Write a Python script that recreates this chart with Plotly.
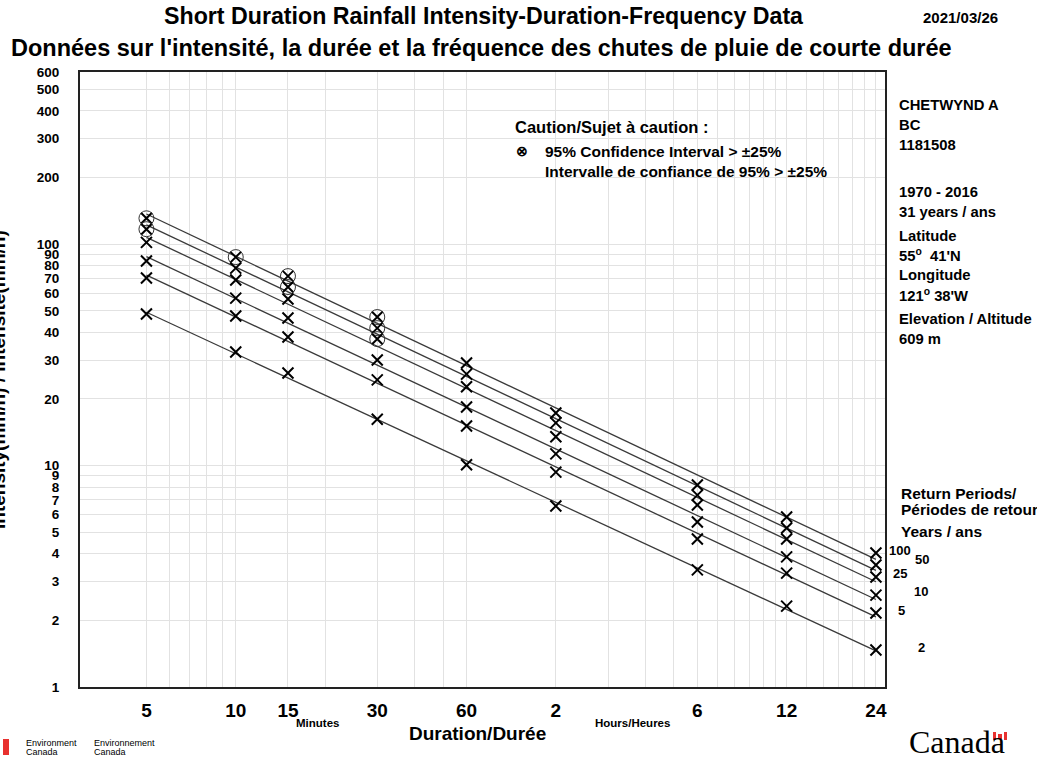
import numpy as np
import plotly.graph_objects as go

# ---------------- data ----------------
durations_min = [5, 10, 15, 30, 60, 120, 360, 720, 1440]
return_periods = ["100", "50", "25", "10", "5", "2"]
rp100 = [131, 87.5, 71.8, 46.9, 29.1, 17.3, 8.17, 5.86, 4.03]
rp50 = [117, 78, 64.1, 41.8, 25.9, 15.6, 7.36, 5.23, 3.56]
rp25 = [102, 68.9, 56.6, 37.3, 22.7, 13.5, 6.64, 4.66, 3.14]
rp10 = [84, 57.1, 46.4, 30.0, 18.4, 11.3, 5.56, 3.87, 2.60]
rp5 = [70.4, 47.4, 38.1, 24.4, 15.1, 9.35, 4.66, 3.27, 2.16]
rp2 = [48.4, 32.6, 26.2, 16.2, 10.1, 6.57, 3.38, 2.32, 1.47]
series = [rp100, rp50, rp25, rp10, rp5, rp2]
# points whose 95% confidence interval exceeds +-25% (circled)
caution100 = [1, 1, 1, 1, 0, 0, 0, 0, 0]
caution50 = [1, 0, 1, 1, 0, 0, 0, 0, 0]
caution25 = [0, 0, 0, 1, 0, 0, 0, 0, 0]
cautions = [caution100, caution50, caution25, [0]*9, [0]*9, [0]*9]

x_tick_vals = [5, 10, 15, 30, 60, 120, 360, 720, 1440]
x_tick_text = ["5", "10", "15", "30", "60", "2", "6", "12", "24"]
x_minor_grid = [6, 7, 8, 9, 20, 40, 50, 180, 240, 300, 420, 480, 540, 600, 660,
                840, 960, 1080, 1200, 1320]
y_ticks = [1, 2, 3, 4, 5, 6, 7, 8, 9, 10, 20, 30, 40, 50, 60, 70, 80, 90,
           100, 200, 300, 400, 500, 600]

# ---------------- layout geometry ----------------
W, H = 1037, 758
L, R, T, B = 80, 885, 72, 687
FONT = "Liberation Sans, Arial, Helvetica, sans-serif"


def px(x, y):
    return (x - L) / (R - L), (B - y) / (B - T)


fig = go.Figure()

logd = np.log10(durations_min)
for vals in series:
    k, c = np.polyfit(logd, np.log10(vals), 1)
    xs = [durations_min[0], durations_min[-1]]
    ys = [10 ** (c + k * np.log10(v)) for v in xs]
    fig.add_trace(go.Scatter(x=xs, y=ys, mode="lines",
                             line=dict(color="#3a3a3a", width=1.3),
                             showlegend=False, hoverinfo="skip"))

for vals, flags in zip(series, cautions):
    fig.add_trace(go.Scatter(x=durations_min, y=vals, mode="markers",
                             marker=dict(symbol="x-thin", size=11, color="black",
                                         line=dict(color="black", width=2)),
                             showlegend=False))
    cx = [d for d, f in zip(durations_min, flags) if f]
    cy = [v for v, f in zip(vals, flags) if f]
    if cx:
        fig.add_trace(go.Scatter(x=cx, y=cy, mode="markers",
                                 marker=dict(symbol="circle-open", size=15, color="#333",
                                             line=dict(color="#333", width=1)),
                                 showlegend=False))

ann = []


def text(x, y, s, size=13, anchor="left", bold=True, family=FONT, color="black", angle=0):
    xp, yp = px(x, y)
    ann.append(dict(x=xp, y=yp, xref="paper", yref="paper", text=s,
                    showarrow=False, xanchor=anchor, yanchor="middle",
                    textangle=angle,
                    font=dict(size=size, family=family, color=color,
                              weight="bold" if bold else "normal")))


text(484, 16, "Short Duration Rainfall Intensity-Duration-Frequency Data", 23.2, "center")
text(960, 18, "2021/03/26", 15, "center")
text(481, 48, "Données sur l'intensité, la durée et la fréquence des chutes de pluie de courte durée", 23.5, "center")

# station info
info = [(105, "CHETWYND A"), (125, "BC"), (145, "1181508"),
        (192, "1970 - 2016"), (212, "31 years / ans"), (236, "Latitude"),
        (255, "55<sup>o</sup>  41'N"), (275, "Longitude"), (295, "121<sup>o</sup> 38'W"),
        (319, "Elevation / Altitude"), (339, "609 m")]
for y, s in info:
    text(897, y, s, 14.8)

# caution legend
text(513, 127, "Caution/Sujet à caution :", 16.5)
text(514, 151, "⊗", 14)
text(543, 151, "95% Confidence Interval > ±25%", 15.5)
text(543, 171, "Intervalle de confiance de 95% > ±25%", 15.5)

# return period labels
text(899, 493, "Return Periods/", 15.5)
text(899, 509, "Périodes de retour", 15.5)
text(899, 531, "Years / ans", 15.5)
for (x, y), s in zip([(900, 550), (922, 559), (900, 573), (921, 591), (901, 610), (921, 647)],
                     return_periods):
    text(x, y, s, 13, "center")

# axis titles
text(317, 723, "Minutes", 11.5, "center")
text(632, 723, "Hours/Heures", 11.5, "center")
text(477, 733, "Duration/Durée", 19, "center")
text(-1, 380, "Intensity(mm/h) / Intensité(mm/h)", 19, "center", angle=-90)

# logos
text(24, 743, "Environment", 9, bold=False)
text(24, 752, "Canada", 9, bold=False)
text(92, 743, "Environnement", 9, bold=False)
text(92, 752, "Canada", 9, bold=False)
text(957, 742, "Canada", 32, "center", bold=False,
     family="Liberation Serif, Times New Roman, serif")

shapes = []


def rect(x0, y0, x1, y1, color):
    a0, b0 = px(x0, y1)
    a1, b1 = px(x1, y0)
    shapes.append(dict(type="rect", xref="paper", yref="paper", x0=a0, y0=b0,
                       x1=a1, y1=b1, fillcolor=color, line=dict(width=0), layer="above"))


rect(3, 739, 9, 755, "#e8312f")
rect(993, 732, 996, 740, "#e8312f")
rect(1004, 732, 1007, 740, "#e8312f")
rect(998, 734, 1002, 739, "#e8312f")

fig.update_layout(
    width=W, height=H,
    margin=dict(l=L, r=W - R, t=T, b=H - B, pad=0),
    paper_bgcolor="white", plot_bgcolor="white",
    annotations=ann, shapes=shapes,
    font=dict(family=FONT, color="black"),
)
fig.update_xaxes(type="log", range=[np.log10(2.985), np.log10(1545)],
                 tickvals=x_tick_vals, ticktext=x_tick_text,
                 tickfont=dict(size=19, weight="bold", family=FONT),
                 ticks="", ticklabelstandoff=5,
                 showgrid=True, gridcolor="#e2e2e2", gridwidth=1,
                 minor=dict(tickvals=x_minor_grid, showgrid=True,
                            gridcolor="#e2e2e2", gridwidth=1, ticks=""),
                 showline=True, mirror=True, linecolor="#222", linewidth=2,
                 zeroline=False)
fig.update_yaxes(type="log", range=[0, np.log10(600)],
                 tickvals=y_ticks, ticktext=[str(v) for v in y_ticks],
                 tickfont=dict(size=13.5, weight="bold", family=FONT),
                 ticks="", ticklabelstandoff=16,
                 showgrid=True, gridcolor="#e2e2e2", gridwidth=1,
                 showline=True, mirror=True, linecolor="#222", linewidth=2,
                 zeroline=False)

fig.write_html("out.html", config={"displayModeBar": False},
               post_script="document.body.style.margin='0';document.body.style.overflow='hidden';")
